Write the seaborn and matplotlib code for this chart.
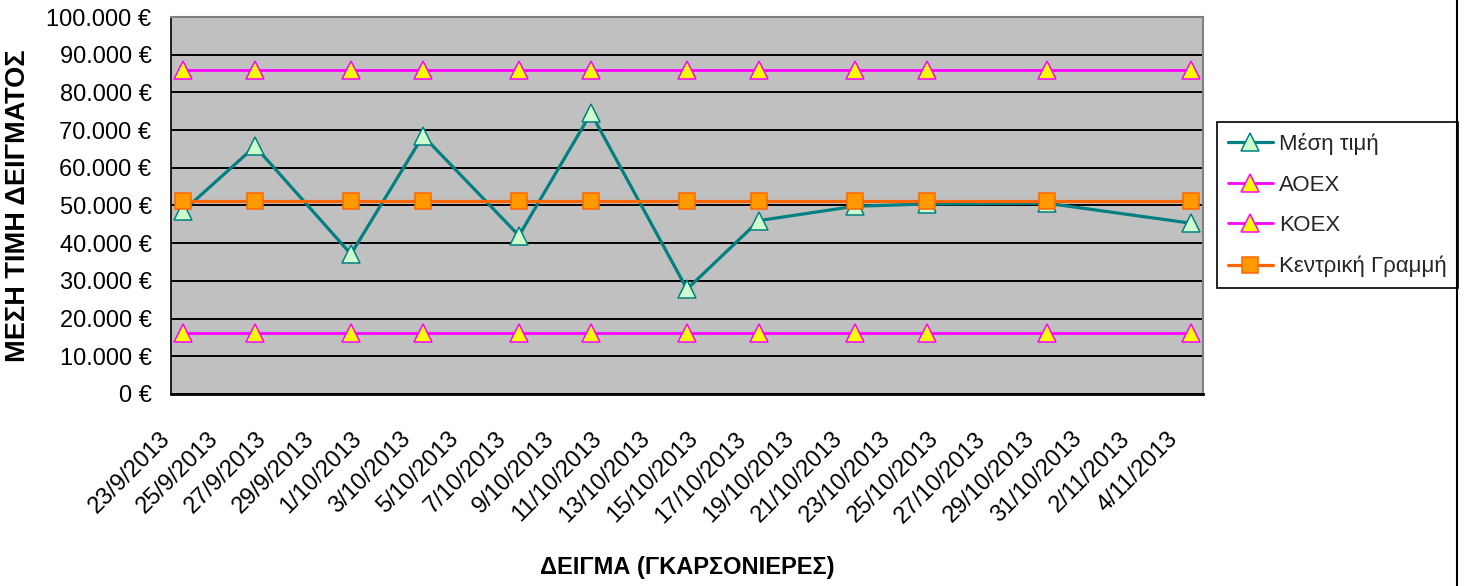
import matplotlib
matplotlib.use("Agg")
import matplotlib.pyplot as plt
from matplotlib.lines import Line2D
import seaborn as sns
import pandas as pd

# ---- data ----
sample_dates = ["23/9/2013", "26/9/2013", "30/9/2013", "3/10/2013", "7/10/2013", "10/10/2013",
                "14/10/2013", "17/10/2013", "21/10/2013", "24/10/2013", "29/10/2013", "4/11/2013"]
mean_price = [48500, 65700, 37100, 68500, 42000, 74500, 27800, 46000, 49800, 50400, 50600, 45300]
ucl_value = 85900
lcl_value = 16300
center_value = 51100

x_tick_labels = ["23/9/2013", "25/9/2013", "27/9/2013", "29/9/2013", "1/10/2013", "3/10/2013",
                 "5/10/2013", "7/10/2013", "9/10/2013", "11/10/2013", "13/10/2013", "15/10/2013",
                 "17/10/2013", "19/10/2013", "21/10/2013", "23/10/2013", "25/10/2013", "27/10/2013",
                 "29/10/2013", "31/10/2013", "2/11/2013", "4/11/2013"]
y_ticks = [0, 10000, 20000, 30000, 40000, 50000, 60000, 70000, 80000, 90000, 100000]
y_tick_labels = ["0 €", "10.000 €", "20.000 €", "30.000 €", "40.000 €", "50.000 €",
                 "60.000 €", "70.000 €", "80.000 €", "90.000 €", "100.000 €"]
series_names = ["Μέση τιμή", "ΑΟΕΧ", "ΚΟΕΧ", "Κεντρική Γραμμή"]
x_axis_start = "23/9/2013"
x_axis_end = "5/11/2013"

# ---- build frame ----
dates = pd.to_datetime(sample_dates, format="%d/%m/%Y") + pd.Timedelta(hours=12)
df = pd.DataFrame({
    "date": dates,
    series_names[0]: mean_price,
    series_names[1]: [ucl_value] * len(dates),
    series_names[2]: [lcl_value] * len(dates),
    series_names[3]: [center_value] * len(dates),
})

sns.set_style("white")
plt.rcParams["font.family"] = ["Liberation Sans", "DejaVu Sans"]

fig = plt.figure(figsize=(14.64, 5.86), dpi=100)
ax = fig.add_axes([171 / 1464, 1 - 394 / 586, 1032 / 1464, 377 / 586])
ax.set_facecolor("#C0C0C0")

styles = [
    dict(color="#008080", marker="^", markersize=12.5, markerfacecolor="#CCFFCC",
         markeredgecolor="#008080", linewidth=2.3),
    dict(color="#FF00FF", marker="^", markersize=12.5, markerfacecolor="#FFFF00",
         markeredgecolor="#FF00FF", linewidth=2.0),
    dict(color="#FF00FF", marker="^", markersize=12.5, markerfacecolor="#FFFF00",
         markeredgecolor="#FF00FF", linewidth=2.0),
    dict(color="#FF6600", marker="s", markersize=12, markerfacecolor="#FF9900",
         markeredgecolor="#FF6600", linewidth=2.3),
]
for name, st in zip(series_names, styles):
    sns.lineplot(data=df, x="date", y=name, ax=ax, errorbar=None, label=name,
                 markeredgewidth=1.1, **st)

# axes limits & ticks
ax.set_xlim(pd.to_datetime(x_axis_start, format="%d/%m/%Y"),
            pd.to_datetime(x_axis_end, format="%d/%m/%Y"))
ax.set_xticks(pd.to_datetime(x_tick_labels, format="%d/%m/%Y"))
ax.set_xticklabels(x_tick_labels, rotation=45, ha="right", va="baseline",
                   rotation_mode="anchor")
ax.set_ylim(0, 100000)
ax.set_yticks(y_ticks)
ax.set_yticklabels(y_tick_labels)

ax.tick_params(axis="both", direction="out", length=6, width=1.2, color="black",
               labelsize=17, labelcolor="black")
ax.tick_params(axis="x", pad=27)
ax.tick_params(axis="y", pad=8)

ax.yaxis.grid(True, color="black", linewidth=1.4)
ax.xaxis.grid(False)
ax.set_axisbelow(True)

for side in ["top", "right"]:
    ax.spines[side].set_color("#808080")
    ax.spines[side].set_linewidth(1.5)
ax.spines["left"].set_color("black")
ax.spines["left"].set_linewidth(1.2)
ax.spines["bottom"].set_color("black")
ax.spines["bottom"].set_linewidth(2.0)

ax.set_xlabel("ΔΕΙΓΜΑ (ΓΚΑΡΣΟΝΙΕΡΕΣ)", fontsize=17, fontweight="bold", color="black")
ax.xaxis.label.set_va("center")
ax.xaxis.set_label_coords(0.5, -0.459)
ax.set_ylabel("ΜΕΣΗ ΤΙΜΗ ΔΕΙΓΜΑΤΟΣ", fontsize=19.5, fontweight="bold", color="black")
ax.yaxis.label.set_va("center")
ax.yaxis.set_label_coords(-0.148, 0.5)

handles, labels = ax.get_legend_handles_labels()
leg = ax.legend(handles, labels, loc="upper left",
                bbox_to_anchor=(1217 / 1464, 1 - 122 / 586), bbox_transform=fig.transFigure,
                frameon=True, fancybox=False, edgecolor="black", facecolor="white",
                framealpha=1, fontsize=16, handlelength=2.0, handletextpad=0.3,
                labelspacing=0.88, borderpad=0.5, borderaxespad=0)
leg.get_frame().set_linewidth(1.2)

# chart-area right border
fig.add_artist(Line2D([1457 / 1464, 1457 / 1464], [0, 1], color="black", linewidth=1.5,
                      transform=fig.transFigure))

fig.savefig("out.png", dpi=100, facecolor="white")
